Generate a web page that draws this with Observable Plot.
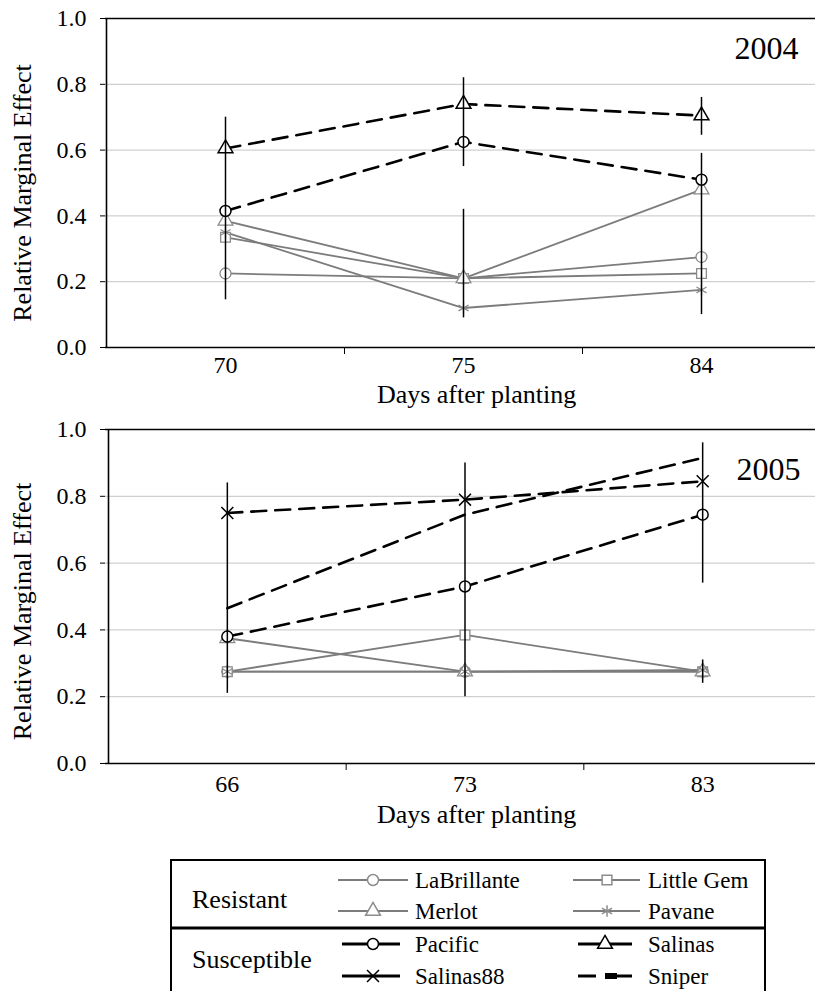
<!DOCTYPE html>
<html><head><meta charset="utf-8">
<script src="https://cdn.jsdelivr.net/npm/d3@7"></script>
<script src="https://cdn.jsdelivr.net/npm/@observablehq/plot@0.6"></script>
<style>
html,body{margin:0;padding:0;background:#fff;overflow:hidden;}
#wrap{width:815px;}
svg{display:block;overflow:hidden;}
</style></head><body><div id="wrap"></div>
<script>
// ---- data ----
const cultivars = ["LaBrillante","Little Gem","Merlot","Pavane","Pacific","Salinas","Salinas88","Sniper"];
const groupOf   = ["Resistant","Resistant","Resistant","Resistant","Susceptible","Susceptible","Susceptible","Susceptible"];
const symbolOf  = ["circle","square","triangle","asterisk","circle","triangle","times",null];
const yTicks = [0,0.2,0.4,0.6,0.8,1.0];
const gridTicks = [0.2,0.4,0.6,0.8];
const yLabel = "Relative Marginal Effect";
const xLabel = "Days after planting";

// 2004
const days2004 = [70,75,84];
const laBrillante2004 = [0.225,0.21,0.275];
const littleGem2004   = [0.335,0.21,0.225];
const merlot2004      = [0.385,0.21,0.48];
const pavane2004      = [0.35,0.12,0.175];
const pacific2004     = [0.415,0.625,0.51];
const salinas2004     = [0.605,0.74,0.705];
const ebDay2004 = [70,75,75,84,84];
const ebLo2004  = [0.145,0.55,0.09,0.645,0.10];
const ebHi2004  = [0.70,0.82,0.42,0.76,0.59];

// 2005
const days2005 = [66,73,83];
const laBrillante2005 = [0.275,0.275,0.275];
const littleGem2005   = [0.275,0.385,0.275];
const merlot2005      = [0.375,0.275,0.275];
const pavane2005      = [0.275,0.275,0.28];
const pacific2005     = [0.38,0.53,0.745];
const salinas88_2005  = [0.75,0.79,0.845];
const sniper2005      = [0.465,0.745,0.915];
const ebDay2005 = [66,73,83,83];
const ebLo2005  = [0.21,0.20,0.54,0.24];
const ebHi2005  = [0.84,0.90,0.96,0.31];

// ---- build tables ----
function buildRows(days, seriesNames, seriesValues){
  const rows = [];
  seriesNames.forEach((name, k) => {
    const c = cultivars.indexOf(name);
    seriesValues[k].forEach((v, i) => rows.push({name, group: groupOf[c], sym: symbolOf[c], i, day: days[i], v}));
  });
  return rows;
}
function buildErr(days, d, lo, hi){
  return d.map((day, k) => ({i: days.indexOf(day), lo: lo[k], hi: hi[k]}));
}
const rows2004 = buildRows(days2004,
  ["LaBrillante","Little Gem","Merlot","Pavane","Pacific","Salinas"],
  [laBrillante2004,littleGem2004,merlot2004,pavane2004,pacific2004,salinas2004]);
const rows2005 = buildRows(days2005,
  ["LaBrillante","Little Gem","Merlot","Pavane","Pacific","Salinas88","Sniper"],
  [laBrillante2005,littleGem2005,merlot2005,pavane2005,pacific2005,salinas88_2005,sniper2005]);
const err2004 = buildErr(days2004, ebDay2004, ebLo2004, ebHi2004);
const err2005 = buildErr(days2005, ebDay2005, ebLo2005, ebHi2005);

const symCultivars = cultivars.filter((c,k)=>symbolOf[k]);
const symRange = symbolOf.filter(s=>s);
const FONT = "Liberation Serif, Times New Roman, serif";

function chart(o){
  const res = o.rows.filter(d=>d.group==="Resistant");
  const sus = o.rows.filter(d=>d.group==="Susceptible");
  return Plot.plot({
    width: 815, height: o.height,
    marginLeft: 105, marginRight: 0, marginTop: o.marginTop, marginBottom: o.marginBottom,
    style: {fontFamily: FONT, fontSize: "24px", background: "white", color: "black", overflow: "hidden"},
    x: {type: "linear", domain: [-0.5, 2.5], range: o.range},
    y: {domain: [0, 1]},
    symbol: {domain: symCultivars, range: symRange},
    marks: [
      Plot.ruleY(gridTicks, {stroke: "#c4c4c4", strokeWidth: 1}),
      Plot.line(res, {x: "i", y: "v", z: "name", stroke: "#7c7c7c", strokeWidth: 1.8}),
      Plot.line(sus, {x: "i", y: "v", z: "name", stroke: "black", strokeWidth: 2.6, strokeDasharray: "15,9"}),
      Plot.dot(res.filter(d=>d.sym), {x: "i", y: "v", symbol: "name", r: 5.5, stroke: "#8c8c8c", fill: "white", strokeWidth: 1.3}),
      Plot.dot(sus.filter(d=>d.sym), {x: "i", y: "v", symbol: "name", r: 5.5, stroke: "black", fill: "white", strokeWidth: 1.5}),
      Plot.ruleX(o.err, {x: "i", y1: "lo", y2: "hi", stroke: "black", strokeWidth: 1.5}),
      Plot.ruleY([0, 1], {stroke: "black", strokeWidth: 1.6}),
      Plot.ruleX([-0.5], {stroke: "black", strokeWidth: 1.6}),
      Plot.axisY({ticks: yTicks, tickFormat: d3.format(".1f"), tickSize: 5, tickPadding: 14, label: null, fontSize: 24, fontFamily: FONT}),
      Plot.axisX({ticks: [0.5, 1.5], tickSize: 7, tickFormat: () => "", label: null}),
      Plot.axisX({ticks: [0, 1, 2], tickSize: 0, tickPadding: o.tickPad, tickFormat: i => o.days[i], label: null, fontSize: 24, fontFamily: FONT}),
      Plot.text([yLabel], {text: d=>d, frameAnchor: "left", rotate: -90, dx: -83, dy: o.labelDy, fontSize: 26, fontFamily: FONT, lineAnchor: "middle", textAnchor: "middle"}),
      Plot.text([xLabel], {text: d=>d, frameAnchor: "bottom", dx: 16, dy: o.titleDy, fontSize: 26, fontFamily: FONT, lineAnchor: "middle"}),
      Plot.text([o.year], {text: d=>d, frameAnchor: "top-right", dx: o.yearDx, dy: o.yearDy, fontSize: 32, fontFamily: FONT, textAnchor: "end", lineAnchor: "top"})
    ]
  });
}

const wrap = document.getElementById("wrap");
wrap.append(chart({rows: rows2004, err: err2004, days: days2004, year: "2004", height: 415, marginTop: 18, marginBottom: 68,
  range: [106, 820], tickPad: 8, labelDy: 10, titleDy: 47, yearDx: -17, yearDy: 18}));
wrap.append(chart({rows: rows2005, err: err2005, days: days2005, year: "2005", height: 425, marginTop: 14, marginBottom: 77,
  range: [108, 821], tickPad: 11, labelDy: 15, titleDy: 51, yearDx: -15, yearDy: 28}));

// ---- legend ----
const legResistant = ["LaBrillante","Little Gem","Merlot","Pavane"];
const legSusceptible = ["Pacific","Salinas","Salinas88","Sniper"];
const legRows = [40, 71, 104, 136];
const d3sym = {circle: d3.symbolCircle, square: d3.symbolSquare, triangle: d3.symbolTriangle, asterisk: d3.symbolAsterisk, times: d3.symbolTimes};

const leg = d3.create("svg").attr("width", 815).attr("height", 151).style("font-family", FONT).style("background", "white");
leg.append("rect").attr("x", 171).attr("y", 20).attr("width", 594).attr("height", 150)
  .attr("fill", "none").attr("stroke", "black").attr("stroke-width", 2);
leg.append("line").attr("x1", 171).attr("x2", 765).attr("y1", 88).attr("y2", 88).attr("stroke", "black").attr("stroke-width", 3);
leg.append("text").attr("x", 192).attr("y", 68).attr("font-size", 26).text("Resistant");
leg.append("text").attr("x", 192).attr("y", 128).attr("font-size", 26).text("Susceptible");

function legItem(name, row, col, susceptible){
  const c = cultivars.indexOf(name);
  const y = legRows[row];
  const cx = col === 0 ? 373 : (susceptible ? 605 : 607);
  const x1 = col === 0 ? (susceptible ? 342 : 338) : (susceptible ? 578 : 573);
  const x2 = col === 0 ? (susceptible ? 400 : 408) : (susceptible ? 632 : 640);
  const stroke = susceptible ? "black" : "#7c7c7c";
  const sw = susceptible ? 3 : 1.8;
  if (name === "Sniper") {
    leg.append("line").attr("x1", x1).attr("x2", 596).attr("y1", y).attr("y2", y).attr("stroke", "black").attr("stroke-width", 3);
    leg.append("line").attr("x1", 605).attr("x2", x2).attr("y1", y).attr("y2", y).attr("stroke", "black").attr("stroke-width", 3);
    leg.append("rect").attr("x", 605).attr("y", y - 3).attr("width", 12).attr("height", 6).attr("fill", "black");
  } else {
    leg.append("line").attr("x1", x1).attr("x2", x2).attr("y1", y).attr("y2", y).attr("stroke", stroke).attr("stroke-width", sw);
    const s = symbolOf[c];
    leg.append("path").attr("transform", `translate(${cx},${y})`)
      .attr("d", d3.symbol(d3sym[s], 95)())
      .attr("fill", (s === "asterisk" || s === "times") ? "none" : "white")
      .attr("stroke", susceptible ? "black" : "#8c8c8c").attr("stroke-width", 1.5);
  }
  leg.append("text").attr("x", col === 0 ? 415 : 648).attr("y", y).attr("dy", "0.33em").attr("font-size", 23).text(name);
}
legResistant.forEach((n, k) => legItem(n, Math.floor(k / 2), k % 2, false));
legSusceptible.forEach((n, k) => legItem(n, 2 + Math.floor(k / 2), k % 2, true));
wrap.append(leg.node());
</script></body></html>
